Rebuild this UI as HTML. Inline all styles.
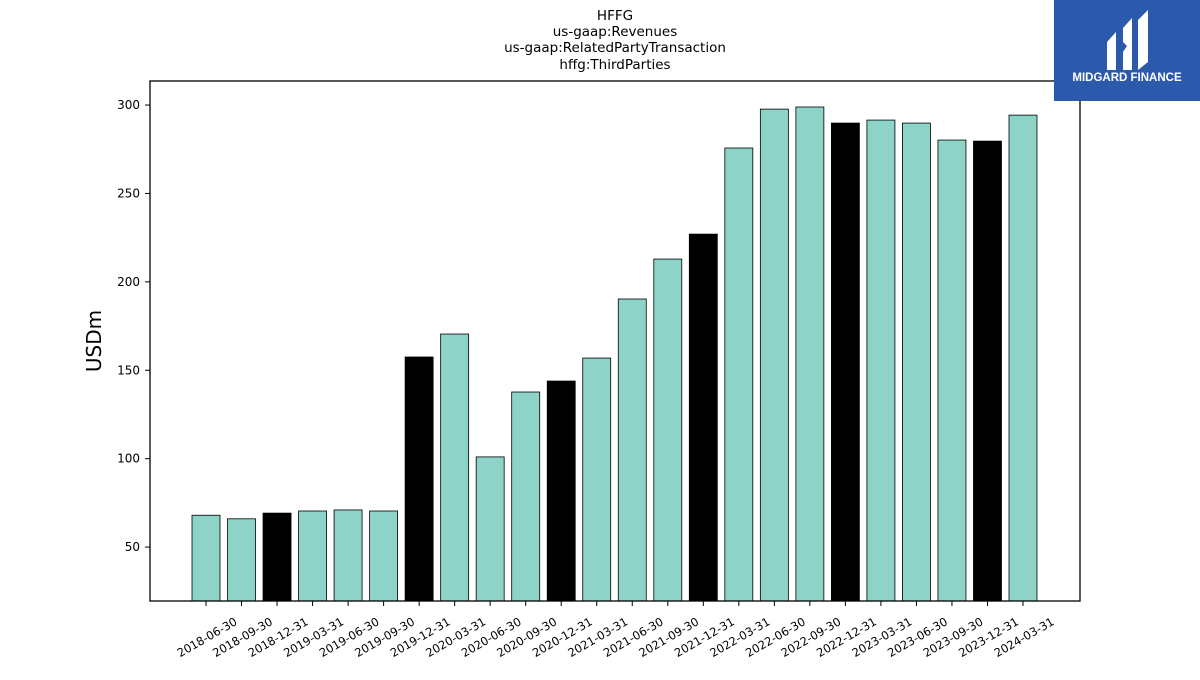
<!DOCTYPE html>
<html><head><meta charset="utf-8">
<style>
body{margin:0;background:#fff;width:1200px;height:675px;overflow:hidden;font-family:"Liberation Sans","DejaVu Sans",sans-serif;}
svg text{font-family:"DejaVu Sans","Liberation Sans",sans-serif;}
</style></head>
<body>
<svg id="chart" width="1200" height="675" xmlns="http://www.w3.org/2000/svg">
  <g font-size="13.5" text-anchor="middle" fill="#000">
    <text x="615" y="20">HFFG</text>
    <text x="615" y="36">us-gaap:Revenues</text>
    <text x="615" y="52">us-gaap:RelatedPartyTransaction</text>
    <text x="615" y="69">hffg:ThirdParties</text>
  </g>
  <g id="bars"></g>
  <g id="yaxis"></g>
  <g id="xaxis"></g>
  <rect x="150" y="81" width="930" height="520" fill="none" stroke="#000" stroke-width="1.3"/>
  <text x="101" y="341" font-size="20" text-anchor="middle" transform="rotate(-90 101 341)">USDm</text>
  <g>
    <rect x="1054" y="0" width="146" height="101" fill="#2b5aad"/>
    <path d="M1107 42 L1116 32 L1116 70 L1107 70 Z" fill="#fff"/>
    <path d="M1123 28 L1132 18 L1132 70 L1123 70 L1123 52 L1127 46 L1123 42 Z" fill="#fff"/>
    <path d="M1138 20 L1148 10 L1148 62 L1138 70 Z" fill="#fff"/>
    <text x="1127" y="81" font-size="11.5" font-weight="bold" fill="#fff" text-anchor="middle" style="font-family:'Liberation Sans',sans-serif">MIDGARD FINANCE</text>
  </g>
</svg>
<script>
const categories=["2018-06-30","2018-09-30","2018-12-31","2019-03-31","2019-06-30","2019-09-30","2019-12-31","2020-03-31","2020-06-30","2020-09-30","2020-12-31","2021-03-31","2021-06-30","2021-09-30","2021-12-31","2022-03-31","2022-06-30","2022-09-30","2022-12-31","2023-03-31","2023-06-30","2023-09-30","2023-12-31","2024-03-31"];
const values=[68,66,69.2,70.4,71,70.4,157.5,170.5,101,137.7,143.9,156.9,190.3,212.9,227,275.7,297.7,298.9,289.8,291.5,289.8,280.2,279.6,294.3];
const yearEnd=[0,0,1,0,0,0,1,0,0,0,1,0,0,0,1,0,0,0,1,0,0,0,1,0];
const yTicks=[50,100,150,200,250,300];
const NS="http://www.w3.org/2000/svg";
const yMin=19.5,yMax=313.6,plotTop=81,plotBottom=601;
function yScale(v){return plotBottom-(v-yMin)/(yMax-yMin)*(plotBottom-plotTop);}
const x0=206,step=(1023-206)/23;
function xScale(i){return x0+i*step;}
const bw=28;
const barsG=document.getElementById('bars'),yaG=document.getElementById('yaxis'),xaG=document.getElementById('xaxis');
function mk(t,a,p){const e=document.createElementNS(NS,t);for(const k in a)e.setAttribute(k,a[k]);p.appendChild(e);return e;}
values.forEach((v,i)=>{
  const r=mk('rect',{x:xScale(i)-bw/2,y:yScale(v),width:bw,height:plotBottom-yScale(v),fill:yearEnd[i]?'#000':'#8dd3c7',stroke:'#000','stroke-width':0.8},barsG);
  
  
  mk('line',{x1:xScale(i),x2:xScale(i),y1:plotBottom,y2:plotBottom+5,stroke:'#000'},xaG);
  const xx=xScale(i)+32,yy=plotBottom+23;
  const l=mk('text',{x:xx,y:yy,'font-size':11.5,'text-anchor':'end',transform:'rotate(-30 '+xx+' '+yy+')'},xaG);
  l.textContent=categories[i];
  
  
});
yTicks.forEach(v=>{
  mk('line',{x1:145,x2:150,y1:yScale(v),y2:yScale(v),stroke:'#000'},yaG);
  const l=mk('text',{x:140,y:yScale(v)+4,'font-size':12,'text-anchor':'end'},yaG);
  l.textContent=v;
  
  
});
</script>
</body></html>
